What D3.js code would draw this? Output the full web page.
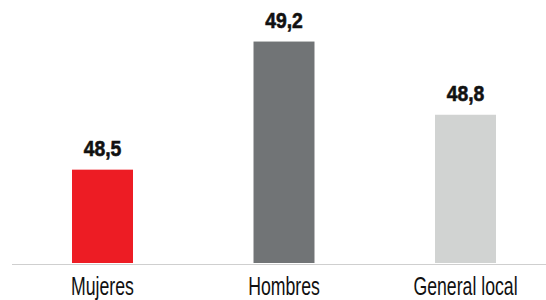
<!DOCTYPE html>
<html>
<head>
<meta charset="utf-8">
<script src="https://cdn.jsdelivr.net/npm/d3@7"></script>
<style>
  body { margin: 0; background: #fff; }
  svg { display: block; }
</style>
</head>
<body>
<div id="vis"></div>
<script>
const width = 546, height = 300;

const categories = ["Mujeres", "Hombres", "General local"];
const values = [48.5, 49.2, 48.8];
const labels = ["48,5", "49,2", "48,8"];
const colors = ["#ed1c24", "#717476", "#d1d3d2"];

const svg = d3.select("#vis")
    .append("svg")
    .attr("width", width)
    .attr("height", height);

// x: bars ~61px wide, centred every ~181px
const x = d3.scaleBand()
    .domain(categories)
    .range([11.75, 556.25])
    .paddingInner(0.664)
    .paddingOuter(0.332);

// y axis is not drawn, baseline sits a bit under 48
const y = d3.scaleLinear()
    .domain([47.99, 49.427])
    .range([263, 0]);

svg.selectAll(".bar")
    .data(values)
    .enter()
    .append("rect")
    .attr("class", "bar")
    .attr("x", (d, i) => x(categories[i]))
    .attr("y", d => y(d))
    .attr("width", x.bandwidth())
    .attr("height", d => y(47.99) - y(d))
    .attr("fill", (d, i) => colors[i]);

// baseline
svg.append("line")
    .attr("x1", 12)
    .attr("x2", width)
    .attr("y1", 264.5)
    .attr("y2", 264.5)
    .attr("stroke", "#cfcfcf")
    .attr("stroke-width", 1);

// value labels (squeezed to look like a condensed bold face)
svg.selectAll(".val")
    .data(values)
    .enter()
    .append("text")
    .attr("class", "val")
    .attr("transform", (d, i) => `translate(${x(categories[i]) + x.bandwidth() / 2},${y(d) - 14}) scale(0.88,1)`)
    .attr("text-anchor", "middle")
    .style("font-family", "'Liberation Sans', Arial, sans-serif")
    .style("font-weight", "bold")
    .style("font-size", "22px")
    .style("stroke", "#111")
    .style("stroke-width", 0.6)
    .style("fill", "#111")
    .text((d, i) => labels[i]);

// category labels
svg.selectAll(".cat")
    .data(categories)
    .enter()
    .append("text")
    .attr("class", "cat")
    .attr("transform", d => `translate(${x(d) + x.bandwidth() / 2},294.5) scale(0.68,1)`)
    .attr("text-anchor", "middle")
    .style("font-family", "'Liberation Sans', Arial, sans-serif")
    .style("font-size", "26px")
    .style("fill", "#111")
    .text(d => d);
</script>
</body>
</html>
